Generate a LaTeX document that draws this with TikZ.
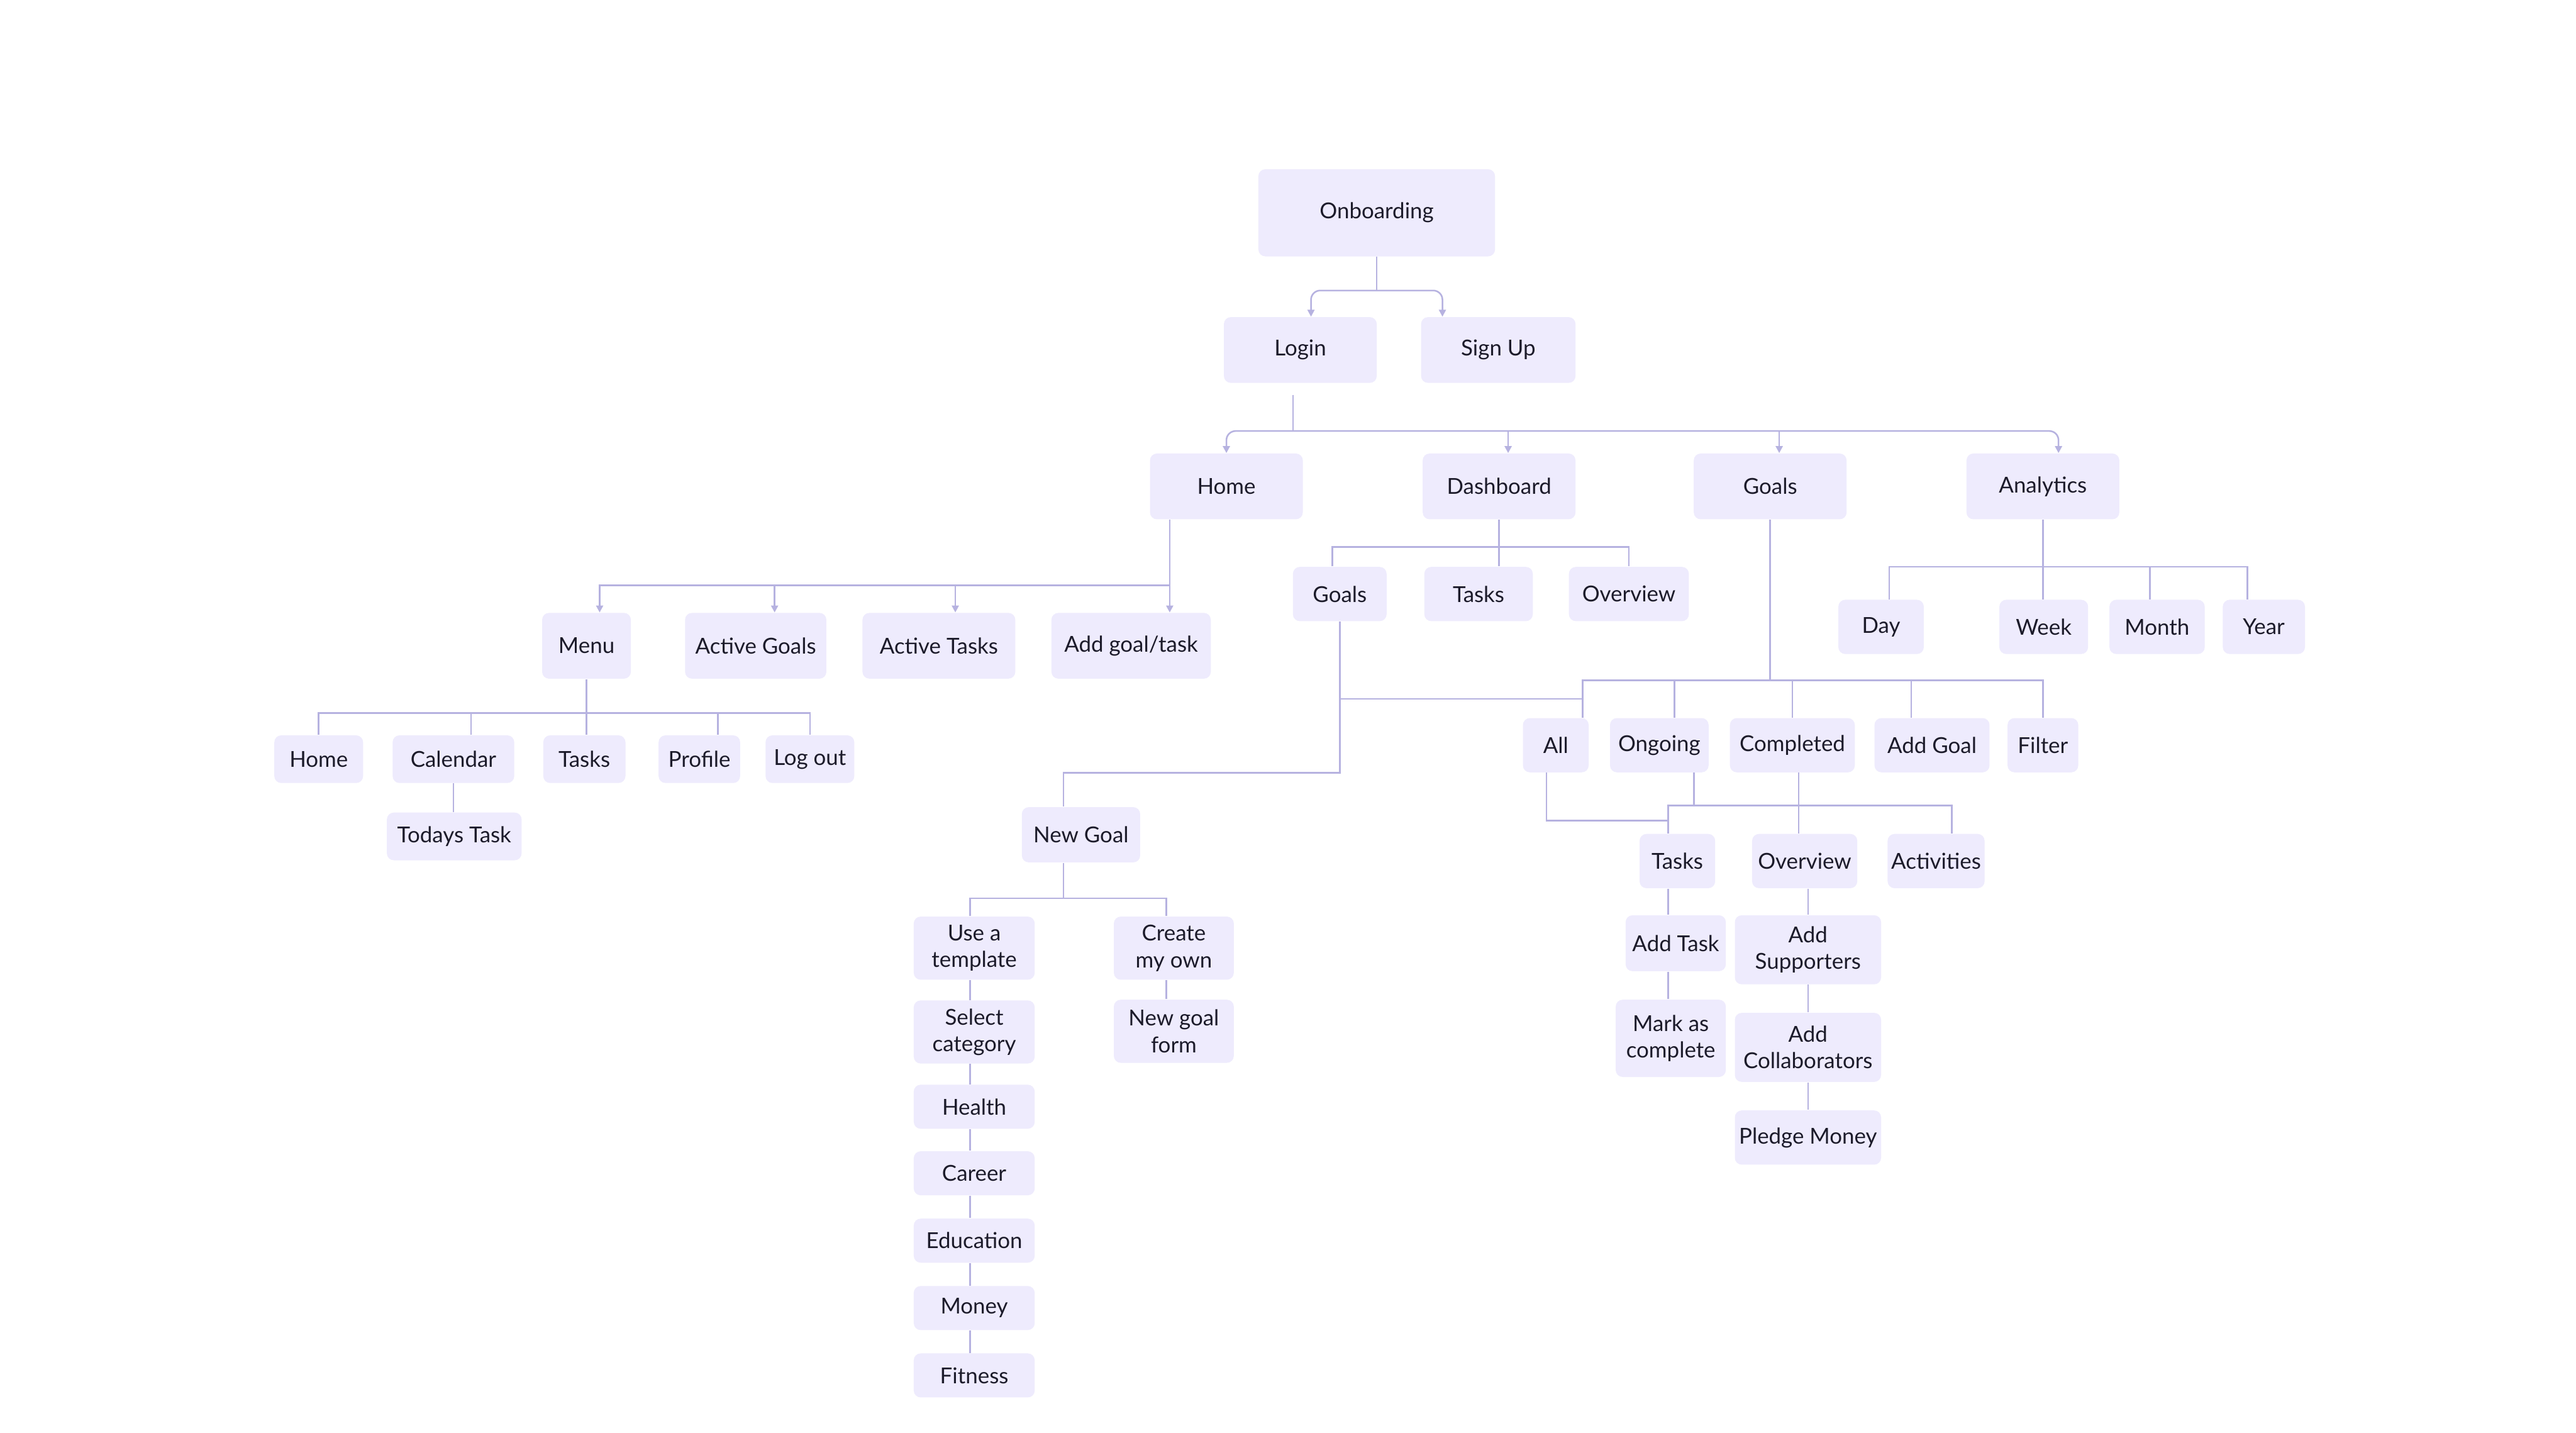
\documentclass[tikz,border=0pt]{standalone}
\usepackage{fontspec}
\setmainfont{Lato}
\usepackage{tikz}
\usetikzlibrary{arrows.meta, positioning, calc}
\usepackage{xcolor}
\definecolor{cBox}{RGB}{238,235,253}
\definecolor{cLine}{RGB}{182,178,224}
\definecolor{cText}{RGB}{28,27,42}
\tikzset{
  basebox/.style={rectangle, rounded corners=3pt, fill=cBox, text=cText,
                  align=center, inner sep=1pt,
                  font=\fontsize{9.5}{11.5}\selectfont},
  mainnode/.style={basebox, minimum width=2.325cm, minimum height=1.0cm},
  subnode/.style={basebox, minimum height=0.825cm},
  menunode/.style={basebox, minimum height=0.725cm},
  pairnode/.style={basebox, minimum width=1.84cm, minimum height=0.96cm},
  listnode/.style={basebox, minimum width=1.84cm, minimum height=0.67cm},
  detailnode/.style={basebox, minimum width=2.225cm},
  link/.style={draw=cLine, line width=0.7pt},
  arrow/.style={link, -{Triangle[length=3pt, width=3pt]}}
}

\begin{document}
\begin{tikzpicture}[x=0.025cm, y=-0.025cm]

  \fill[white] (0,0) rectangle (1568,872);
  \useasboundingbox (0,0) rectangle (1568,872);

  % ── Top ──
  \node[basebox, minimum width=3.6cm, minimum height=1.325cm] (onboard)
      at (838,129.5) {Onboarding};
  \node[mainnode] (login) at (791.5,213) {Login};
  \node[mainnode, minimum width=2.35cm] (signup) at (912,213) {Sign Up};

  % ── Sections ──
  \node[mainnode] (home) at (746.5,296) {Home};
  \node[mainnode] (dash) at (912.5,296) {Dashboard};
  \node[mainnode] (goals) at (1077.5,296) {Goals};
  \node[mainnode] (analytics) at (1243.5,296) {Analytics};

  % ── Home ──
  \node[mainnode, minimum width=1.35cm] (menu) at (357,393) {Menu};
  \node[mainnode, minimum width=2.15cm] (actgoals) at (460,393) {Active Goals};
  \node[mainnode] (acttasks) at (571.5,393) {Active Tasks};
  \node[mainnode, minimum width=2.425cm] (addgt) at (688.5,393) {Add goal/task};

  \node[menunode, minimum width=1.35cm] (mhome) at (194,462) {Home};
  \node[menunode, minimum width=1.85cm] (cal) at (276,462) {Calendar};
  \node[menunode, minimum width=1.25cm] (mtasks) at (355.7,462) {Tasks};
  \node[menunode, minimum width=1.24cm] (profile) at (425.7,462) {Profile};
  \node[menunode, minimum width=1.35cm] (logout) at (493,462) {Log out};
  \node[menunode, minimum width=2.05cm] (todays) at (276.5,509) {Todays Task};

  % ── Dashboard ──
  \node[subnode, minimum width=1.425cm] (dgoals) at (815.5,361.5) {Goals};
  \node[subnode, minimum width=1.65cm] (dtasks) at (900,361.5) {Tasks};
  \node[subnode, minimum width=1.825cm] (dover) at (991.5,361.5) {Overview};

  % ── Analytics ──
  \node[subnode, minimum width=1.3cm] (day) at (1145,381.5) {Day};
  \node[subnode, minimum width=1.35cm] (week) at (1244,381.5) {Week};
  \node[subnode, minimum width=1.45cm] (month) at (1313,381.5) {Month};
  \node[subnode, minimum width=1.25cm] (year) at (1378,381.5) {Year};

  % ── Goals ──
  \node[subnode, minimum width=1.0cm] (all) at (947,453.5) {All};
  \node[subnode, minimum width=1.5cm] (ongoing) at (1010,453.5) {Ongoing};
  \node[subnode, minimum width=1.9cm] (completed) at (1091,453.5) {Completed};
  \node[subnode, minimum width=1.75cm] (addgoal) at (1176,453.5) {Add Goal};
  \node[subnode, minimum width=1.075cm] (filter) at (1243.5,453.5) {Filter};

  \node[subnode, minimum width=1.15cm] (gtasks) at (1021,524) {Tasks};
  \node[subnode, minimum width=1.6cm] (gover) at (1098.5,524) {Overview};
  \node[subnode, minimum width=1.475cm] (activities) at (1178.5,524) {Activities};

  \node[basebox, minimum width=1.525cm, minimum height=0.85cm] (addtask)
      at (1020,574) {Add Task};
  \node[basebox, minimum width=1.675cm, minimum height=1.175cm,
        below=0.42cm of addtask, xshift=-0.075cm] (markc) {Mark as\\complete};

  \node[detailnode, minimum height=1.05cm] (addsup)
      at (1100.5,578) {Add\\Supporters};
  \node[detailnode, minimum height=1.05cm, below=0.42cm of addsup] (addcol)
      {Add\\Collaborators};
  \node[detailnode, minimum height=0.825cm, below=0.42cm of addcol] (pledge)
      {Pledge Money};

  % ── New goal ──
  \node[subnode, minimum width=1.8cm, minimum height=0.84cm] (newgoal)
      at (658,508) {New Goal};
  \node[pairnode] (usetpl) at (593,577) {Use a\\template};
  \node[pairnode] (selcat) at (593,628) {Select\\category};
  \node[listnode] (health) at (593,673.5) {Health};
  \node[listnode] (career) at (593,714) {Career};
  \node[listnode] (edu) at (593,755) {Education};
  \node[listnode] (money) at (593,796) {Money};
  \node[listnode] (fitness) at (593,837) {Fitness};
  \node[pairnode, minimum width=1.825cm] (create) at (714.5,577) {Create\\my own};
  \node[pairnode, minimum width=1.825cm, below=0.29cm of create] (ngform)
      {New goal\\form};

  % ── Connectors: top ──
  \coordinate (onbj) at ([shift={(0,20.5)}]onboard.south);
  \coordinate (loginin) at ([shift={(6.5,0)}]login.north);
  \coordinate (signin) at ([shift={(-34,0)}]signup.north);
  \draw[link] (onboard.south) -- (onbj);
  \draw[arrow, rounded corners=4] (onbj) -| (loginin);
  \draw[arrow, rounded corners=4] (onbj) -| (signin);

  \coordinate (loginout) at ([shift={(-4.5,7)}]login.south);
  \coordinate (lj) at ([shift={(-4.5,29)}]login.south);
  \coordinate (dashin) at ([shift={(5.5,0)}]dash.north);
  \coordinate (goalsin) at ([shift={(5.5,0)}]goals.north);
  \coordinate (anain) at ([shift={(9.5,0)}]analytics.north);
  \draw[link] (loginout) -- (lj);
  \draw[arrow, rounded corners=4] (lj) -| (home.north);
  \draw[arrow, rounded corners=4] (lj) -| (anain);
  \draw[arrow] (dashin |- lj) -- (dashin);
  \draw[arrow] (goalsin |- lj) -- (goalsin);

  % ── Connectors: home ──
  \coordinate (homeout) at ([shift={(-34.5,0)}]home.south);
  \coordinate (hj) at ([shift={(-34.5,40)}]home.south);
  \coordinate (menuin) at ([shift={(8,0)}]menu.north);
  \coordinate (agin) at ([shift={(11.5,0)}]actgoals.north);
  \coordinate (atin) at ([shift={(10,0)}]acttasks.north);
  \draw[arrow] (homeout) -- (homeout |- addgt.north);
  \draw[arrow] (hj) -| (menuin);
  \draw[arrow] (agin |- hj) -- (agin);
  \draw[arrow] (atin |- hj) -- (atin);

  \coordinate (mj) at ([shift={(0,20.6)}]menu.south);
  \coordinate (calin) at ([shift={(10.7,0)}]cal.north);
  \coordinate (profin) at ([shift={(11.3,0)}]profile.north);
  \draw[link] (menu.south) -- (menu.south |- mtasks.north);
  \draw[link] (mhome.north) |- (mj) -| (logout.north);
  \draw[link] (calin) -- (calin |- mj);
  \draw[link] (profin) -- (profin |- mj);
  \draw[link] (cal.south) -- (cal.south |- todays.north);

  % ── Connectors: dashboard ──
  \coordinate (dj) at ([shift={(0,16.6)}]dash.south);
  \coordinate (dgin) at ([shift={(-4.5,0)}]dgoals.north);
  \draw[link] (dash.south) -- (dash.south |- dtasks.north);
  \draw[link] (dgin) |- (dj) -| (dover.north);

  % ── Connectors: analytics ──
  \coordinate (aj) at ([shift={(0,28.6)}]analytics.south);
  \coordinate (dayin) at ([shift={(5,0)}]day.north);
  \coordinate (monthin) at ([shift={(-4.4,0)}]month.north);
  \coordinate (yearin) at ([shift={(-10,0)}]year.north);
  \draw[link] (analytics.south) -- (analytics.south |- week.north);
  \draw[link] (dayin) |- (aj) -| (yearin);
  \draw[link] (monthin) -- (monthin |- aj);

  % ── Connectors: goals ──
  \coordinate (gj) at ([shift={(0,97.7)}]goals.south);
  \coordinate (allin) at ([shift={(16.4,0)}]all.north);
  \coordinate (ongin) at ([shift={(9.3,0)}]ongoing.north);
  \coordinate (addgin) at ([shift={(-12.6,0)}]addgoal.north);
  \draw[link] (goals.south) -- (gj);
  \draw[link] (allin) |- (gj) -| (filter.north);
  \draw[link] (ongin) -- (ongin |- gj);
  \draw[link] (completed.north) -- (completed.north |- gj);
  \draw[link] (addgin) -- (addgin |- gj);

  \coordinate (dgk) at ([shift={(0,47)}]dgoals.south);
  \coordinate (dgj) at ([shift={(0,92)}]dgoals.south);
  \coordinate (ngin) at ([shift={(-10.6,0)}]newgoal.north);
  \draw[link] (dgoals.south) -- (dgj) -| (ngin);
  \draw[link] (dgk) -- (dgk -| allin);

  \coordinate (allout) at ([shift={(-5.6,0)}]all.south);
  \coordinate (aj2) at ([shift={(0,29)}]all.south);
  \coordinate (gtin) at ([shift={(-5.6,0)}]gtasks.north);
  \coordinate (cj) at ([shift={(0,20)}]completed.south);
  \coordinate (ongout) at ([shift={(21,0)}]ongoing.south);
  \coordinate (compout) at ([shift={(3.8,0)}]completed.south);
  \coordinate (actin) at ([shift={(9.5,0)}]activities.north);
  \draw[link] (allout) |- (gtin |- aj2);
  \draw[link] (gtin) |- (cj) -| (actin);
  \draw[link] (ongout) -- (ongout |- cj);
  \draw[link] (compout) -- (compout |- gover.north);

  \draw[link] (gtin |- gtasks.south) -- (gtin |- addtask.north);
  \draw[link] (gtin |- addtask.south) -- (gtin |- markc.north);
  \draw[link] (addsup.north |- gover.south) -- (addsup.north);
  \draw[link] (addsup.south) -- (addcol.north);
  \draw[link] (addcol.south) -- (pledge.north);

  % ── Connectors: new goal ──
  \coordinate (ngout) at ([shift={(-10.6,0)}]newgoal.south);
  \coordinate (nj) at ([shift={(-10.6,21.5)}]newgoal.south);
  \coordinate (tplin) at ([shift={(-2.5,0)}]usetpl.north);
  \coordinate (crin) at ([shift={(-4.5,0)}]create.north);
  \draw[link] (ngout) -- (nj);
  \draw[link] (tplin) |- (nj) -| (crin);
  \draw[link] (tplin |- usetpl.south) -- (tplin |- selcat.north);
  \draw[link] (tplin |- selcat.south) -- (tplin |- health.north);
  \draw[link] (tplin |- health.south) -- (tplin |- career.north);
  \draw[link] (tplin |- career.south) -- (tplin |- edu.north);
  \draw[link] (tplin |- edu.south) -- (tplin |- money.north);
  \draw[link] (tplin |- money.south) -- (tplin |- fitness.north);
  \draw[link] (crin |- create.south) -- (crin |- ngform.north);

\end{tikzpicture}
\end{document}
